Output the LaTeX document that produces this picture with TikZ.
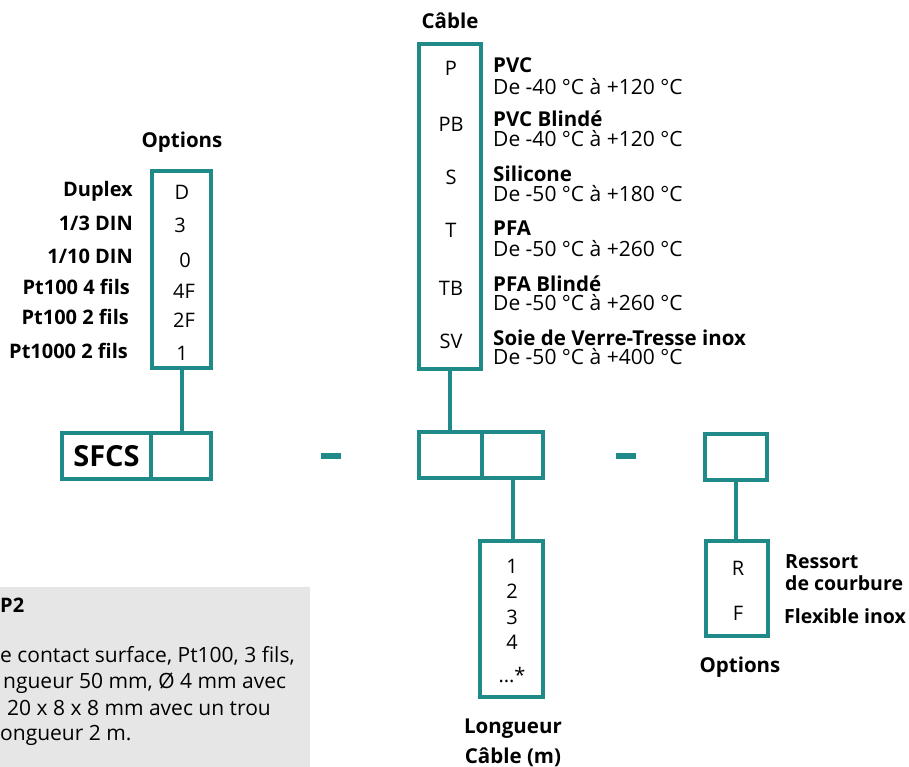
\documentclass[tikz,border=0pt]{standalone}
\usepackage{fontspec}
\setmainfont{Open Sans}
\definecolor{tealc}{HTML}{1F8A87}
\definecolor{grayc}{HTML}{E6E6E6}
\begin{document}
\begin{tikzpicture}[x=1pt,y=-1pt,
  tbox/.style={draw=tealc,line width=4pt,inner sep=0pt,outer sep=0pt},
  tlink/.style={draw=tealc,line width=4pt},
  dashbar/.style={fill=tealc,inner sep=0pt,minimum width=20pt,minimum height=6pt},
  codetxt/.style={font=\fontsize{20}{22}\selectfont,inner sep=0pt,anchor=base},
  mattxt/.style={font=\fontsize{20.5}{22}\selectfont\bfseries,inner sep=0pt,anchor=base west},
  rngtxt/.style={font=\fontsize{21}{22}\selectfont,inner sep=0pt,anchor=base west},
  opttxt/.style={font=\fontsize{20}{21}\selectfont\bfseries,inner sep=0pt,anchor=base east},
  ttltxt/.style={font=\fontsize{20.5}{21}\selectfont\bfseries,inner sep=0pt,anchor=base},
  notetxt/.style={font=\fontsize{21}{22}\selectfont,inner sep=0pt,anchor=base west},
  notehead/.style={font=\fontsize{20}{22}\selectfont\bfseries,inner sep=0pt,anchor=base west},
  bigtxt/.style={font=\fontsize{29}{30}\selectfont\bfseries,inner sep=0pt,anchor=base}]
\useasboundingbox (0,0) rectangle (909,767);

% grey note
\fill[grayc] (0,587) rectangle (310,767);
\node[notehead] (n0) at (0,612) {P2};
\node[notetxt] (n1) at (0,662) {e contact surface, Pt100, 3 fils,};
\node[notetxt] (n2) at (3,688) {ngueur 50 mm, Ø 4 mm avec};
\node[notetxt] (n3) at (7,715) {20 x 8 x 8 mm avec un trou};
\node[notetxt] (n4) at (0,740) {ongueur 2 m.};

% left options
\node[ttltxt] (optt) at (182,148) {Options};
\node[tbox,minimum width=59pt,minimum height=197pt] (opt) at (181.5,269.5) {};
\node[opttxt] (l1) at (133,197) {Duplex};
\node[opttxt] (l2) at (133,230) {1/3 DIN};
\node[opttxt] (l3) at (133,263) {1/10 DIN};
\node[opttxt] (l4) at (130,294) {Pt100 4 fils};
\node[opttxt] (l5) at (129,324) {Pt100 2 fils};
\node[opttxt] (l6) at (128,358) {Pt1000 2 fils};
\node[codetxt] (o1) at (182,200) {D};
\node[codetxt] (o2) at (180,233) {3};
\node[codetxt] (o3) at (185,267) {0};
\node[codetxt] (o4) at (184,298) {4F};
\node[codetxt] (o5) at (184,327) {2F};
\node[codetxt] (o6) at (182,360) {1};

% SFCS box
\node[tbox,minimum width=89pt,minimum height=46pt] (sfcs) at (106.5,456) {};
\node[bigtxt] (sfcst) at (106.5,466) {SFCS};
\node[tbox,minimum width=60pt,minimum height=46pt] (sfcs2) at (181,456) {};
\draw[tlink] (opt.south) -- (opt.south |- sfcs2.north);

\node[dashbar] (d1) at (331,456) {};
\node[dashbar] (d2) at (626,456) {};

% cable
\node[ttltxt] (cabt) at (450,29) {Câble};
\node[tbox,minimum width=62pt,minimum height=325pt] (cab) at (450,206.5) {};
\node[codetxt] (c1t) at (451,76) {P};
\node[codetxt] (c2t) at (451,132) {PB};
\node[codetxt] (c3t) at (451,185) {S};
\node[codetxt] (c4t) at (451,237) {T};
\node[codetxt] (c5t) at (451,295) {TB};
\node[codetxt] (c6t) at (451,348) {SV};
\node[mattxt] (m1) at (493,73) {PVC};
\node[rngtxt] (r1) at (493,95) {De -40 °C à +120 °C};
\node[mattxt] (m2) at (493,127) {PVC Blindé};
\node[rngtxt] (r2) at (493,147) {De -40 °C à +120 °C};
\node[mattxt] (m3) at (493,182) {Silicone};
\node[rngtxt] (r3) at (493,202) {De -50 °C à +180 °C};
\node[mattxt] (m4) at (493,236) {PFA};
\node[rngtxt] (r4) at (493,256) {De -50 °C à +260 °C};
\node[mattxt] (m5) at (493,291) {PFA Blindé};
\node[rngtxt] (r5) at (493,310) {De -50 °C à +260 °C};
\node[mattxt] (m6) at (493,345) {Soie de Verre-Tresse inox};
\node[rngtxt] (r6) at (493,364) {De -50 °C à +400 °C};

\node[tbox,minimum width=63pt,minimum height=46pt] (cb1) at (450.5,455) {};
\node[tbox,minimum width=61pt,minimum height=46pt] (cb2) at (512.5,455) {};
\draw[tlink] (cab.south) -- (cab.south |- cb1.north);

% length
\node[tbox,minimum width=63pt,minimum height=156pt] (lon) at (511.5,619) {};
\draw[tlink] (cb2.south) -- (cb2.south |- lon.north);
\node[codetxt] (k1) at (512,573) {1};
\node[codetxt] (k2) at (512,598) {2};
\node[codetxt] (k3) at (512,624) {3};
\node[codetxt] (k4) at (512,649) {4};
\node[codetxt] (k5) at (512,682) {...*};
\node[ttltxt] (lt1) at (513,733) {Longueur};
\node[ttltxt] (lt2) at (513,763) {Câble (m)};

% right
\node[tbox,minimum width=62pt,minimum height=46pt] (rb) at (736,457) {};
\node[tbox,minimum width=62pt,minimum height=95pt] (ropt) at (737,588.5) {};
\draw[tlink] (rb.south) -- (rb.south |- ropt.north);
\node[codetxt] (q1) at (738,575) {R};
\node[codetxt] (q2) at (738,620) {F};
\node[opttxt,anchor=base west,font=\fontsize{19.5}{21}\selectfont\bfseries] (p1) at (785,568) {Ressort};
\node[opttxt,anchor=base west,font=\fontsize{19.5}{21}\selectfont\bfseries] (p2) at (785,590) {de courbure};
\node[opttxt,anchor=base west,font=\fontsize{19.5}{21}\selectfont\bfseries] (p3) at (784,623) {Flexible inox};
\node[ttltxt] (rt) at (740,672) {Options};
\end{tikzpicture}
\end{document}
